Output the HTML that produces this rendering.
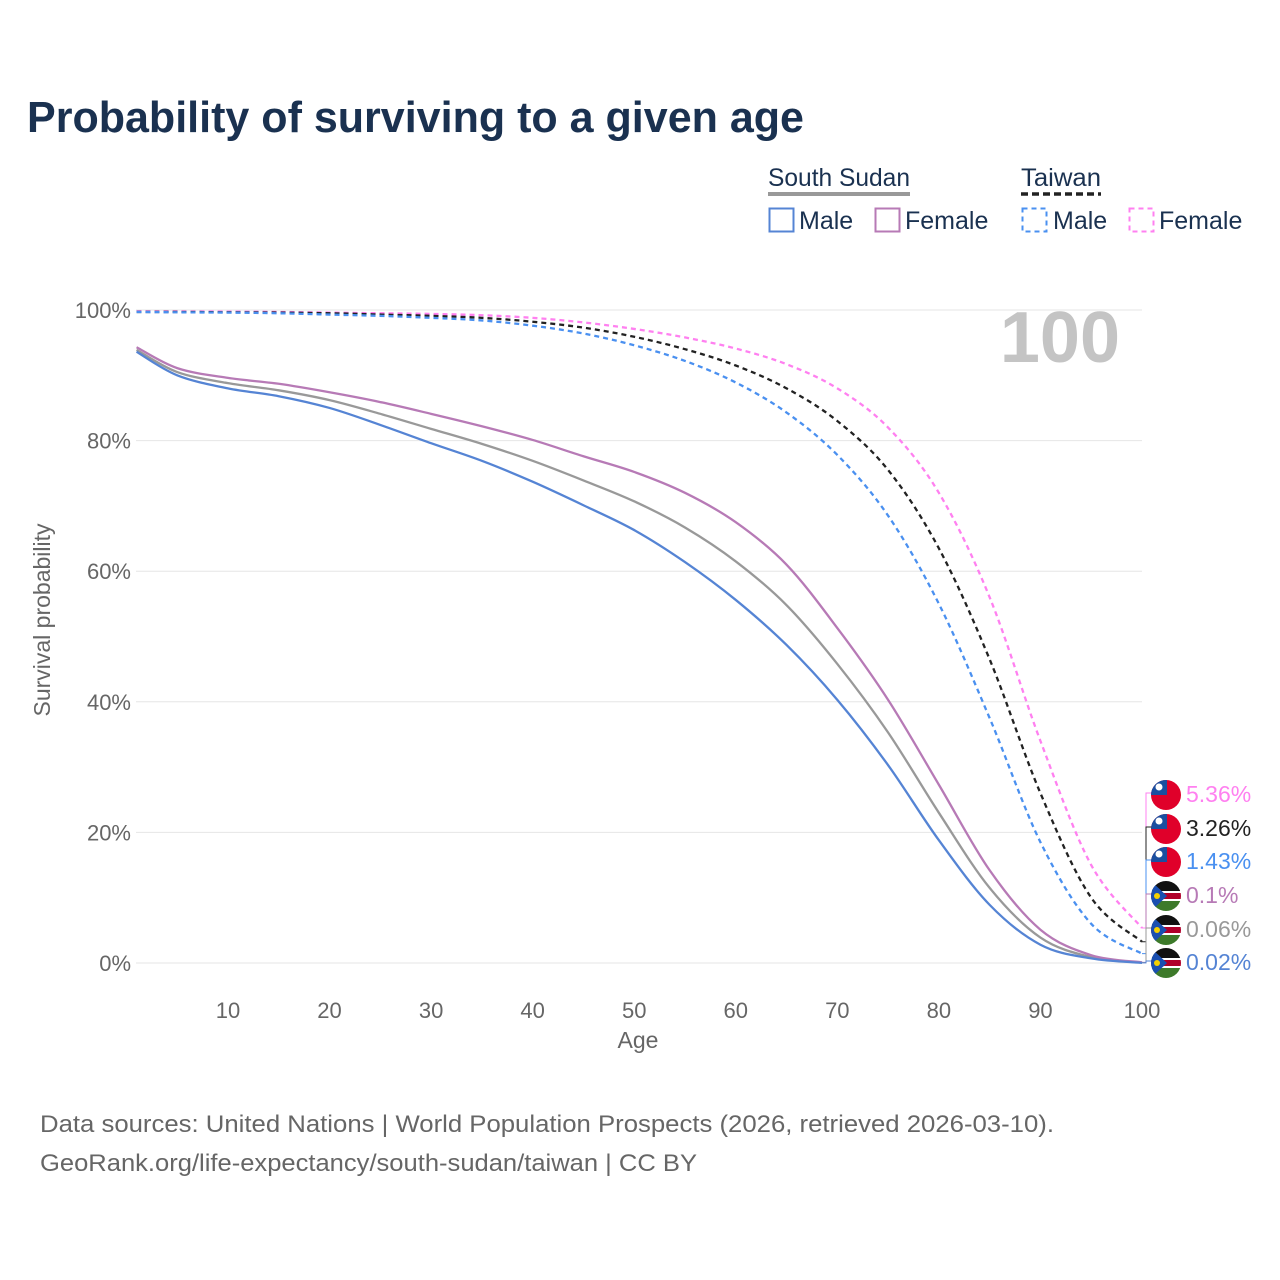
<!DOCTYPE html>
<html><head><meta charset="utf-8"><style>
body{margin:0;background:#fff;font-family:"Liberation Sans",sans-serif}
#wrap{position:relative;width:1280px;height:1280px;overflow:hidden}
</style></head><body>
<div id="wrap">
<svg id="svg" width="1280" height="1280" xmlns="http://www.w3.org/2000/svg">
<text x="27" y="132" font-size="44" font-weight="bold" fill="#1a3150" textLength="777" lengthAdjust="spacingAndGlyphs">Probability of surviving to a given age</text>
<g font-size="25" fill="#1a3150">
<text x="768" y="186" textLength="142" lengthAdjust="spacingAndGlyphs">South Sudan</text>
<rect x="768" y="192" width="142" height="4" fill="#999"/>
<text x="1021" y="186" textLength="80" lengthAdjust="spacingAndGlyphs">Taiwan</text>
<line x1="1021" y1="194" x2="1101" y2="194" stroke="#222" stroke-width="3.5" stroke-dasharray="7,4"/>
<rect x="769.5" y="208.5" width="24" height="23" fill="none" stroke="#5584d4" stroke-width="2"/>
<text x="799" y="229">Male</text>
<rect x="875.5" y="208.5" width="24" height="23" fill="none" stroke="#b77ab6" stroke-width="2"/>
<text x="905" y="229">Female</text>
<rect x="1022.5" y="208.5" width="24" height="23" fill="none" stroke="#4a90f0" stroke-width="2" stroke-dasharray="5,4"/>
<text x="1053" y="229">Male</text>
<rect x="1129.5" y="208.5" width="24" height="23" fill="none" stroke="#ff80f0" stroke-width="2" stroke-dasharray="5,4"/>
<text x="1159" y="229">Female</text>
</g>
<text x="1120" y="362" text-anchor="end" font-size="72" font-weight="bold" fill="#c4c4c4">100</text>
<g id="grid"></g><g id="lines"></g><g id="labels"></g>
<text x="638" y="1048" text-anchor="middle" font-size="23" fill="#666">Age</text>
<text transform="translate(50,620) rotate(-90)" text-anchor="middle" font-size="23" fill="#666">Survival probability</text>
<text x="40" y="1132" font-size="24" fill="#666" textLength="1014" lengthAdjust="spacingAndGlyphs">Data sources: United Nations | World Population Prospects (2026, retrieved 2026-03-10).</text>
<text x="40" y="1171" font-size="24" fill="#666" textLength="657" lengthAdjust="spacingAndGlyphs">GeoRank.org/life-expectancy/south-sudan/taiwan | CC BY</text>
</svg>
</div>
<script>
const ages=[1,5,10,15,20,25,30,35,40,45,50,55,60,65,70,75,80,85,90,95,100];
const ssMale=[93.6,90,88,86.8,85,82.4,79.6,76.9,73.7,70.1,66.3,61.4,55.6,48.7,40.3,30.3,18.8,8.9,2.8,0.7,0.02];
const ssFemale=[94.3,91.1,89.6,88.7,87.4,85.9,84.1,82.2,80.1,77.6,75.2,72,67.5,61,51.3,40.3,27.3,14.2,5.1,1.2,0.1];
const ssTotal=[93.9,90.5,88.8,87.7,86.2,84.1,81.8,79.5,76.9,73.9,70.7,66.7,61.5,54.8,45.8,35.3,23,11.5,3.9,0.9,0.06];
const twMale=[99.7,99.65,99.6,99.5,99.3,99.1,98.8,98.4,97.6,96.4,94.6,92.2,88.9,84.3,77.8,68.5,55,37.5,18.5,6,1.43];
const twFemale=[99.8,99.78,99.75,99.7,99.6,99.5,99.4,99.2,98.8,98.1,97.1,95.8,94.1,91.7,88,82,72,56,34,15,5.36];
const twTotal=[99.7,99.7,99.65,99.6,99.5,99.3,99.1,98.8,98.2,97.3,95.9,94,91.5,88,83,75.5,63.5,46.5,26,10,3.26];
const yTicks=[0,20,40,60,80,100];
const xTicks=[10,20,30,40,50,60,70,80,90,100];
const NS='http://www.w3.org/2000/svg';
const X=a=>126.4+a*10.156, Y=v=>963-v*6.53;
function mk(t,at,p){const e=document.createElementNS(NS,t);for(const k in at)e.setAttribute(k,at[k]);p.appendChild(e);return e;}
const grid=document.getElementById('grid');
yTicks.forEach(v=>{
 const l=mk('line',{x1:136,x2:1142,y1:Y(v),y2:Y(v),stroke:'#e6e6e6','stroke-width':1},grid);
 
 
 const t=mk('text',{x:131,y:Y(v)+8,'text-anchor':'end','font-size':22,fill:'#666'},grid);t.textContent=v+'%';
 
 
});
xTicks.forEach(v=>{
 const t=mk('text',{x:X(v),y:1018,'text-anchor':'middle','font-size':22,fill:'#666'},grid);t.textContent=v;
 
 
});
function path(vals){
 const p=ages.map((a,i)=>[X(a),Y(vals[i])]);let d='M'+p[0][0]+','+p[0][1];
 for(let i=0;i<p.length-1;i++){const p0=p[Math.max(0,i-1)],p1=p[i],p2=p[i+1],p3=p[Math.min(p.length-1,i+2)];
  d+=' C'+(p1[0]+(p2[0]-p0[0])/6)+','+(p1[1]+(p2[1]-p0[1])/6)+' '+(p2[0]-(p3[0]-p1[0])/6)+','+(p2[1]-(p3[1]-p1[1])/6)+' '+p2[0]+','+p2[1];}
 return d;}
const lines=document.getElementById('lines');
const series=[
 [ssTotal,'#999','', 'south-sudan-total-line'],[ssFemale,'#b77ab6','','south-sudan-female-line'],[ssMale,'#5584d4','','south-sudan-male-line'],
 [twFemale,'#ff80f0','5,4','taiwan-female-line'],[twTotal,'#222','5,4','taiwan-total-line'],[twMale,'#4a90f0','5,4','taiwan-male-line']];
series.forEach(s=>{
 const e=mk('path',{d:path(s[0]),fill:'none',stroke:s[1],'stroke-width':2.3,'stroke-dasharray':s[2]},lines);
 
 
});
const labs=document.getElementById('labels');
const endLabels=[[twFemale,'#ff80f0',793,'tw'],[twTotal,'#222',827,'tw'],[twMale,'#4a90f0',860,'tw'],[ssFemale,'#b77ab6',894,'ss'],[ssTotal,'#999',928,'ss'],[ssMale,'#5584d4',961,'ss']];
endLabels.forEach((L,i)=>{
 const v=L[0][L[0].length-1], ly=L[2];
 mk('polyline',{points:`1142,${Y(v)} 1146,${Y(v)} 1146,${ly} 1152,${ly}`,fill:'none',stroke:L[1],'stroke-width':1},labs);
 const g=mk('g',{},labs);
 
 
 const cx=1166,cy=ly+2,r=15;
 const id='c'+i;const cp=mk('clipPath',{id:id},g);mk('circle',{cx:cx,cy:cy,r:r},cp);
 const f=mk('g',{'clip-path':'url(#'+id+')'},g);
 if(L[3]==='tw'){mk('rect',{x:cx-r,y:cy-r,width:30,height:30,fill:'#e0002a'},f);mk('rect',{x:cx-r,y:cy-r,width:16,height:15,fill:'#1a4fa0'},f);mk('circle',{cx:cx-7,cy:cy-8,r:3.5,fill:'#fff'},f);}
 else{mk('rect',{x:cx-r,y:cy-r,width:30,height:10,fill:'#111'},f);mk('rect',{x:cx-r,y:cy-5,width:30,height:10,fill:'#fff'},f);mk('rect',{x:cx-r,y:cy-3,width:30,height:6,fill:'#b0002a'},f);mk('rect',{x:cx-r,y:cy+5,width:30,height:10,fill:'#3d7a2a'},f);mk('polygon',{points:`${cx-r},${cy-r} ${cx+1},${cy} ${cx-r},${cy+r}`,fill:'#1a4fb0'},f);mk('circle',{cx:cx-9,cy:cy,r:3,fill:'#f5d000'},f);}
 const t=mk('text',{x:1186,y:ly+9,'font-size':23,fill:L[1]},labs);t.textContent=v+'%';
 
 
});
</script>
</body></html>
